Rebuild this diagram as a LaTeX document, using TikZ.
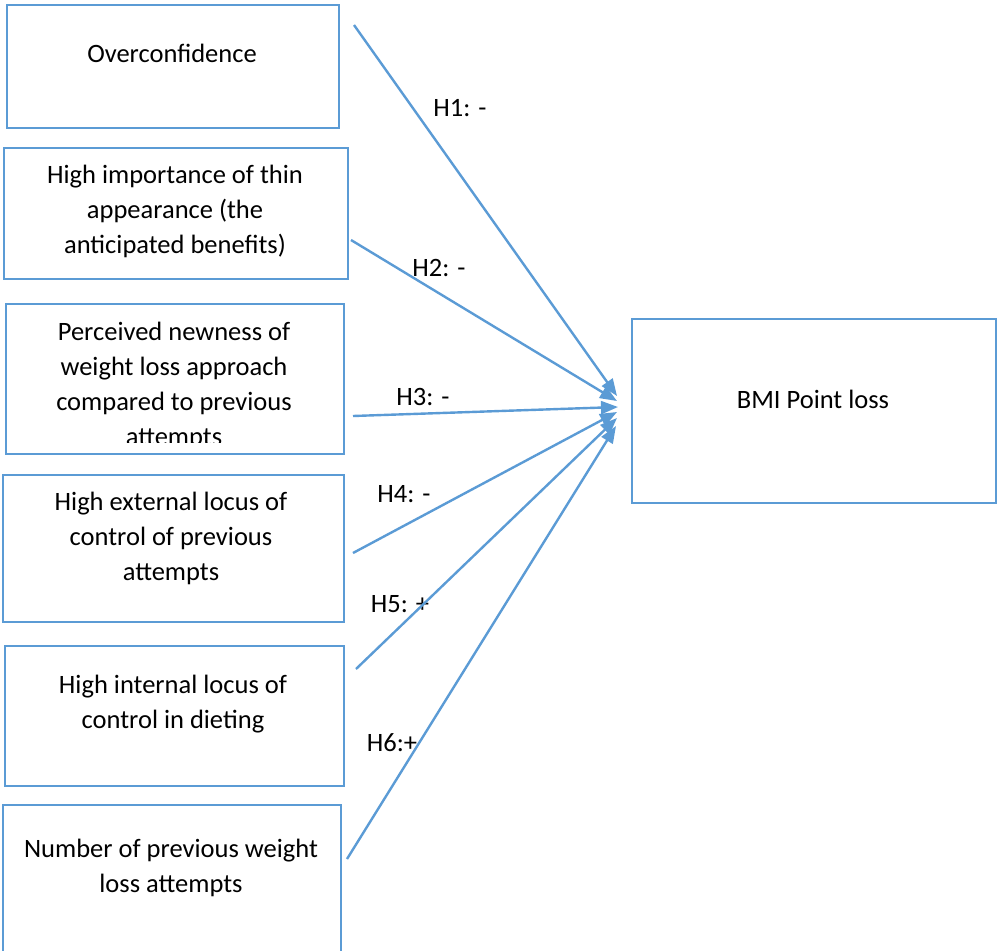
\documentclass[tikz,border=0pt]{standalone}
\usepackage{fontspec}
\setmainfont{Carlito}
\usetikzlibrary{arrows.meta}
\definecolor{lineblue}{HTML}{5B9BD5}
\tikzset{
  box/.style={draw=lineblue, line width=2.3pt, inner sep=0pt, anchor=north west, fill=white},
  txt/.style={font=\fontsize{26.5}{35}\selectfont, align=center, inner sep=0pt},
  lbl/.style={font=\fontsize{26.5}{35}\selectfont, inner sep=0pt},
  link/.style={draw=lineblue, line width=2.4pt, -{Triangle[length=17pt,width=13pt]}}
}
\begin{document}
\begin{tikzpicture}[x=1pt,y=-1pt]
\useasboundingbox (0,0) rectangle (997,951);
% boxes
\node[box, minimum width=332pt, minimum height=123pt] (b1) at (6,4) {};
\node[box, minimum width=344pt, minimum height=131pt] (b2) at (3,147) {};
\node[box, minimum width=338pt, minimum height=150pt] (b3) at (5,303) {};
\node[box, minimum width=341pt, minimum height=147pt] (b4) at (2,474) {};
\node[box, minimum width=339pt, minimum height=140pt] (b5) at (4,645) {};
\node[box, minimum width=338pt, minimum height=160pt] (b6) at (2,804) {};
\node[box, minimum width=364pt, minimum height=184pt] (bmi) at (631,318) {};
% texts
\node[txt] (t1) at (172,53) {Overconfidence};
\node[txt] (t2) at (175,211) {High importance of thin\\appearance (the\\anticipated benefits)};
\begin{scope}
\clip (5,303) rectangle (343,442);
\node[txt] (t3) at (174,386) {Perceived newness of\\weight loss approach\\compared to previous\\attempts};
\end{scope}
\node[txt] (t4) at (171,538) {High external locus of\\control of previous\\attempts};
\node[txt] (t5) at (173,704) {High internal locus of\\control in dieting};
\node[txt] (t6) at (171,868) {Number of previous weight\\loss attempts};
\node[txt] (tb) at (813,399) {BMI Point loss};
% labels
\node[lbl] (h1) at (460,108) {H1: -};
\node[lbl] (h2) at (439,268) {H2: -};
\node[lbl] (h3) at (423,397) {H3: -};
\node[lbl] (h4) at (404,494) {H4: -};
\node[lbl] (h5) at (400,604) {H5: +};
\node[lbl] (h6) at (392,743) {H6:+};
% connector ends
\coordinate (s1) at (354,25);
\coordinate (s2) at (351,240);
\coordinate (s3) at (353,416);
\coordinate (s4) at (353,553);
\coordinate (s5) at (356,669);
\coordinate (s6) at (347,859);
\coordinate (e1) at (617,396);
\coordinate (e2) at (617,401);
\coordinate (e3) at (618,407);
\coordinate (e4) at (617,412);
\coordinate (e5) at (617,418);
\coordinate (e6) at (616,426);
\draw[link] (s1) -- (e1);
\draw[link] (s2) -- (e2);
\draw[link] (s3) -- (e3);
\draw[link] (s4) -- (e4);
\draw[link] (s5) -- (e5);
\draw[link] (s6) -- (e6);
\end{tikzpicture}
\end{document}
